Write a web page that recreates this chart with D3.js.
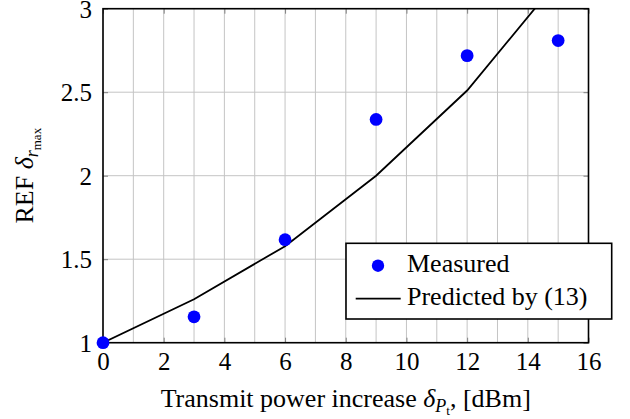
<!DOCTYPE html>
<html>
<head>
<meta charset="utf-8">
<script src="https://cdn.jsdelivr.net/npm/d3@7"></script>
<style>
  body { margin: 0; background: #fff; }
</style>
</head>
<body>
<div id="chart"></div>
<script>
// data
const xMeasured = [0, 3, 6, 9, 12, 15];
const measured = [1.0, 1.155, 1.617, 2.337, 2.719, 2.809];
const xPredicted = [0, 3, 6, 9, 12, 15];
const predicted = [1.0, 1.26, 1.578, 2.0, 2.51, 3.17];
const xTicks = [0, 2, 4, 6, 8, 10, 12, 14, 16];
const xGrid = d3.range(0, 17, 1);
const yTicks = [1, 1.5, 2, 2.5, 3];
const legendLabels = ["Measured", "Predicted by (13)"];

const serif = "'Liberation Serif', 'DejaVu Serif', serif";

const W = 630, H = 419;
const margin = { top: 8.7, right: 41.5, bottom: 76.3, left: 103 };
const width = W - margin.left - margin.right,
      height = H - margin.top - margin.bottom;

const svg = d3.select("#chart").append("svg")
    .attr("width", W)
    .attr("height", H);

const g = svg.append("g")
    .attr("transform", "translate(" + margin.left + "," + margin.top + ")");

const x = d3.scaleLinear().domain([0, 16]).range([0, width]);
const y = d3.scaleLinear().domain([1, 3]).range([height, 0]);

// grid
g.selectAll(".vgrid")
  .data(xGrid)
  .enter()
  .append("line")
    .attr("x1", d => x(d)).attr("x2", d => x(d))
    .attr("y1", 0).attr("y2", height)
    .attr("stroke", "#c4c4c4")
    .attr("stroke-width", 1);

g.selectAll(".hgrid")
  .data(yTicks)
  .enter()
  .append("line")
    .attr("x1", 0).attr("x2", width)
    .attr("y1", d => y(d)).attr("y2", d => y(d))
    .attr("stroke", "#c4c4c4")
    .attr("stroke-width", 1);

// inward ticks, all four sides
const tickLen = 5;
const xBottom = d3.axisBottom(x).tickValues(xTicks).tickSize(-tickLen).tickFormat(d3.format("d"));
const xTop = d3.axisTop(x).tickValues(xTicks).tickSize(-tickLen).tickFormat("");
const yLeft = d3.axisLeft(y).tickValues(yTicks).tickSize(-tickLen).tickFormat(d => String(d));
const yRight = d3.axisRight(y).tickValues(yTicks).tickSize(-tickLen).tickFormat("");

function styleAxis(sel) {
  sel.attr("font-family", null).attr("font-size", null);
  sel.select(".domain").remove();
  sel.selectAll(".tick line").attr("stroke", "#808080").attr("stroke-width", 1);
  sel.selectAll("text").style("font-size", "25px");
}

g.append("g").attr("transform", "translate(0," + height + ")").call(xBottom).call(styleAxis)
  .selectAll("text").attr("dy", "0.71em").attr("y", 9.5);
g.append("g").call(xTop).call(styleAxis);
g.append("g").call(yLeft).call(styleAxis)
  .selectAll("text").attr("dy", "0.34em").attr("x", -11);
g.append("g").attr("transform", "translate(" + width + ",0)").call(yRight).call(styleAxis);

// predicted curve, clipped to the axis box
g.append("clipPath").attr("id", "clip")
  .append("rect").attr("width", width).attr("height", height);

const line = d3.line()
    .x((d, i) => x(xPredicted[i]))
    .y(d => y(d));

g.append("path")
    .datum(predicted)
    .attr("clip-path", "url(#clip)")
    .attr("d", line)
    .attr("fill", "none")
    .attr("stroke", "#000")
    .attr("stroke-width", 1.8);

// frame
g.append("rect")
    .attr("width", width).attr("height", height)
    .attr("fill", "none")
    .attr("stroke", "#000")
    .attr("stroke-width", 1.6);

// measured points
g.selectAll(".pt")
  .data(measured)
  .enter()
  .append("circle")
    .attr("cx", (d, i) => x(xMeasured[i]))
    .attr("cy", d => y(d))
    .attr("r", 6.4)
    .attr("fill", "#0000ff");

// axis titles
const xt = svg.append("text")
    .attr("x", margin.left + width / 2)
    .attr("y", 406.5)
    .attr("text-anchor", "middle")
    .style("font-size", "26px");
xt.append("tspan").text("Transmit power increase ");
xt.append("tspan").attr("font-style", "italic").text("δ");
xt.append("tspan").attr("font-style", "italic").attr("dy", 5).style("font-size", "18px").text("P");
xt.append("tspan").attr("dy", 3).style("font-size", "13px").text("t");
xt.append("tspan").attr("dy", -8).text(", [dBm]");

const yt = svg.append("text")
    .attr("transform", "translate(33," + (margin.top + height / 2) + ") rotate(-90)")
    .attr("text-anchor", "middle")
    .style("font-size", "26px");
yt.append("tspan").text("REF ");
yt.append("tspan").attr("font-style", "italic").text("δ");
yt.append("tspan").attr("font-style", "italic").attr("dy", 5).style("font-size", "18px").text("r");
yt.append("tspan").attr("dy", 3).style("font-size", "13px").text("max");

// legend
const lg = svg.append("g").attr("transform", "translate(346,243.3)");
lg.append("rect")
    .attr("width", 265.7).attr("height", 75.7)
    .attr("fill", "#fff")
    .attr("stroke", "#000")
    .attr("stroke-width", 1.6);
lg.append("circle")
    .attr("cx", 32).attr("cy", 22.4).attr("r", 6.2)
    .attr("fill", "#0000ff");
lg.append("line")
    .attr("x1", 9.7).attr("x2", 54.7)
    .attr("y1", 55.4).attr("y2", 55.4)
    .attr("stroke", "#000").attr("stroke-width", 1.8);
lg.selectAll(".lt")
  .data(legendLabels)
  .enter()
  .append("text")
    .attr("x", 61)
    .attr("y", (d, i) => 28.4 + i * 33.3)
    .style("font-size", "26px")
    .text(d => d);

// same serif face everywhere
svg.selectAll("text").style("font-family", serif).style("fill", "#000");
</script>
</body>
</html>
